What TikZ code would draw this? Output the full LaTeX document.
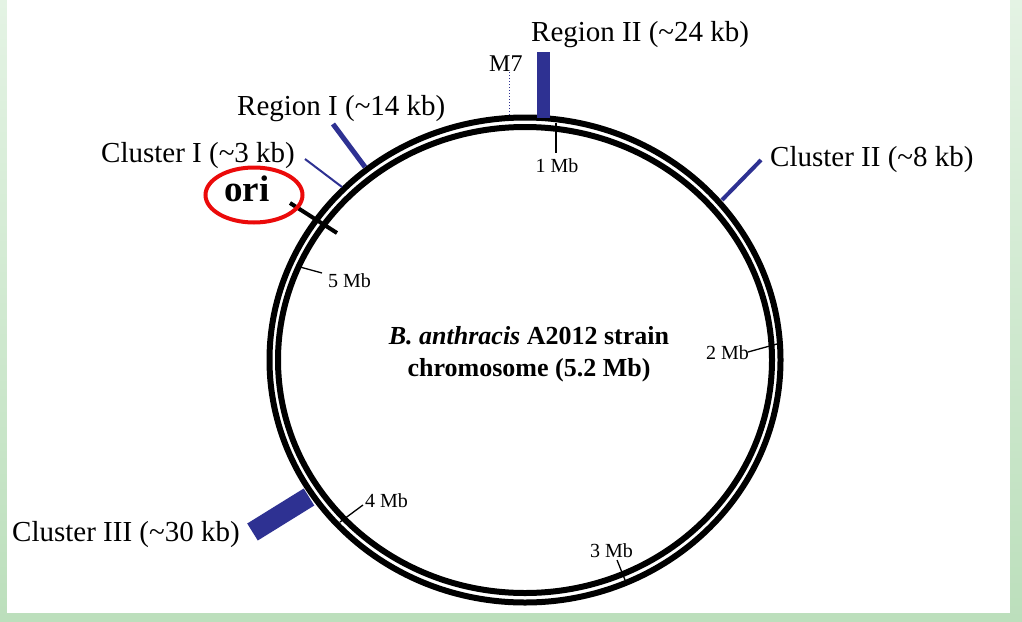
\documentclass[tikz,border=0pt]{standalone}
\usepackage{fontspec}
\setmainfont{Liberation Serif}
\usetikzlibrary{shapes.geometric}
\definecolor{gblue}{RGB}{46,49,146}
\definecolor{gred}{RGB}{235,10,10}
\definecolor{bgtop}{RGB}{228,243,228}
\definecolor{bgbot}{RGB}{188,223,188}
\begin{document}
\begin{tikzpicture}[x=1pt,y=-1pt,
  lbl/.style={inner sep=0pt,anchor=base west,font=\fontsize{29}{34}\selectfont},
  small/.style={inner sep=0pt,font=\fontsize{20}{24}\selectfont},
  ring/.style={line width=6pt,draw=black},
  tick/.style={line width=1.3pt,draw=black},
  feat/.style={draw=gblue,line cap=butt}]
\useasboundingbox (0,0) rectangle (1022,621);
% background frame
\shade[top color=bgtop,bottom color=bgbot] (0,0) rectangle (1022,621);
\fill[white] (7,0) rectangle (1010,613);
% chromosome ring
\coordinate (c) at (525,360);
\draw[ring] (c) ellipse [x radius=255.5pt,y radius=242.5pt];
\draw[ring] (c) ellipse [x radius=247pt,y radius=233pt];
% features
\coordinate (r2a) at (543,52);  \coordinate (r2b) at (543,118);
\draw[feat,line width=13pt] (r2a) -- (r2b);
\coordinate (m7a) at (509,72);  \coordinate (m7b) at (509,117);
\draw[draw=gblue,line width=1pt,dotted] (m7a) -- (m7b);
\coordinate (r1a) at (333,124); \coordinate (r1b) at (365,167);
\draw[feat,line width=5pt] (r1a) -- (r1b);
\coordinate (c1a) at (305,159); \coordinate (c1b) at (342,187);
\draw[feat,line width=2pt] (c1a) -- (c1b);
\coordinate (c2a) at (761,160); \coordinate (c2b) at (722,200);
\draw[feat,line width=4pt] (c2a) -- (c2b);
\coordinate (c3a) at (252.5,532); \coordinate (c3b) at (309,497);
\draw[feat,line width=20pt] (c3a) -- (c3b);
% ori
\coordinate (oa) at (290,203); \coordinate (ob) at (337,233);
\draw[line width=4pt] (oa) -- (ob);
\node[draw=gred,line width=4pt,ellipse,inner sep=0pt,minimum width=97pt,minimum height=55pt] (oriring) at (254,195) {};
\node[inner sep=0pt,anchor=base west,font=\fontsize{37}{40}\selectfont\bfseries] (ori) at (224,201) {ori};
% labels
\node[lbl] (lr2) at (531,41) {Region II (\char`\~24 kb)};
\node[inner sep=0pt,anchor=base west,font=\fontsize{24}{28}\selectfont] (lm7) at (489,71) {M7};
\node[lbl] (lr1) at (237,115) {Region I (\char`\~14 kb)};
\node[lbl] (lc1) at (101,162) {Cluster I (\char`\~3 kb)};
\node[lbl] (lc2) at (770,166) {Cluster II (\char`\~8 kb)};
\node[lbl] (lc3) at (12,541) {Cluster III (\char`\~30 kb)};
% Mb ticks
\coordinate (t1a) at (556,123); \coordinate (t1b) at (556,153);
\draw[tick] (t1a) -- (t1b);
\node[small,anchor=base] (m1) at (557,172) {1 Mb};
\coordinate (t2a) at (748,352); \coordinate (t2b) at (777,344);
\draw[tick] (t2a) -- (t2b);
\node[small,anchor=base east] (m2) at (749,359) {2 Mb};
\coordinate (t3a) at (617,560); \coordinate (t3b) at (625,580);
\draw[tick] (t3a) -- (t3b);
\node[small,anchor=base west] (m3) at (590,557) {3 Mb};
\coordinate (t4a) at (363,505); \coordinate (t4b) at (340,522);
\draw[tick] (t4a) -- (t4b);
\node[small,anchor=base west] (m4) at (365,507) {4 Mb};
\coordinate (t5a) at (322,273); \coordinate (t5b) at (300,267);
\draw[tick] (t5a) -- (t5b);
\node[small,anchor=base west] (m5) at (328,287) {5 Mb};
% title
\node[inner sep=0pt,align=center,font=\fontsize{26}{32}\selectfont\bfseries] (title) at (529,354)
  {\textit{B. anthracis} A2012 strain\\chromosome (5.2 Mb)};
\end{tikzpicture}
\end{document}
